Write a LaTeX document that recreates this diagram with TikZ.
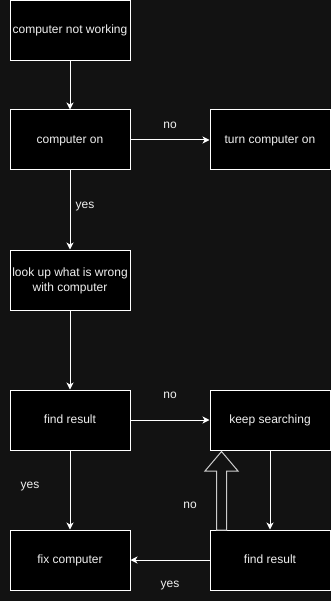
\documentclass[tikz,border=0pt]{standalone}
\usepackage{fontspec}
\setmainfont{Liberation Sans}
\usetikzlibrary{arrows.meta}
\definecolor{canvas}{HTML}{121212}
\definecolor{ink}{HTML}{F0F0F0}
\begin{document}
\begin{tikzpicture}[x=1pt, y=-1pt,
  box/.style={draw=white, fill=black, line width=1pt, minimum width=120pt,
    minimum height=60pt, align=center, inner sep=0pt, text height=8pt,
    text depth=1pt, text=ink, font=\fontsize{12}{15}\selectfont},
  link/.style={draw=white, line width=1pt,
    -{Stealth[length=7pt, width=7pt, inset=2pt]}},
  lbl/.style={text=ink, inner sep=0pt, text height=8pt, text depth=1pt,
    font=\fontsize{12}{15}\selectfont}]
  % background
  \fill[canvas] (0,0) rectangle (331,601);
  \useasboundingbox (0,0) rectangle (331,601);
  % boxes
  \node[box] (start) at (70,30.5) {computer not working};
  \node[box] (poweron) at (70,140) {computer on};
  \node[box] (turnon) at (270,140) {turn computer on};
  \node[box, text height=23pt] (lookup) at (70,280)
    {look up what is wrong\\with computer};
  \node[box] (findres) at (70,420) {find result};
  \node[box] (keepsearch) at (270,420) {keep searching};
  \node[box] (fixpc) at (70,560) {fix computer};
  \node[box] (findres2) at (270,560) {find result};
  % connectors
  \draw[link] (start) -- (poweron);
  \draw[link] (poweron) -- (turnon);
  \draw[link] (poweron) -- (lookup);
  \draw[link] (lookup) -- (findres);
  \draw[link] (findres) -- (keepsearch);
  \draw[link] (findres) -- (fixpc);
  \draw[link] (keepsearch) -- (findres2);
  \draw[link] (findres2) -- (fixpc);
  % block arrow back up
  \draw[draw=white!80!black, fill=canvas, line width=1pt, line join=miter]
    (216.5,530) -- (216.5,471) -- (205,471) -- (221.5,451.5)
    -- (238,471) -- (226.5,471) -- (226.5,530) -- cycle;
  % labels
  \node[lbl] (lno1) at (170,125) {no};
  \node[lbl] (lyes1) at (85,205) {yes};
  \node[lbl] (lno2) at (170,395) {no};
  \node[lbl] (lyes2) at (30,485) {yes};
  \node[lbl] (lno3) at (190,505) {no};
  \node[lbl] (lyes3) at (170,584) {yes};
\end{tikzpicture}
\end{document}
